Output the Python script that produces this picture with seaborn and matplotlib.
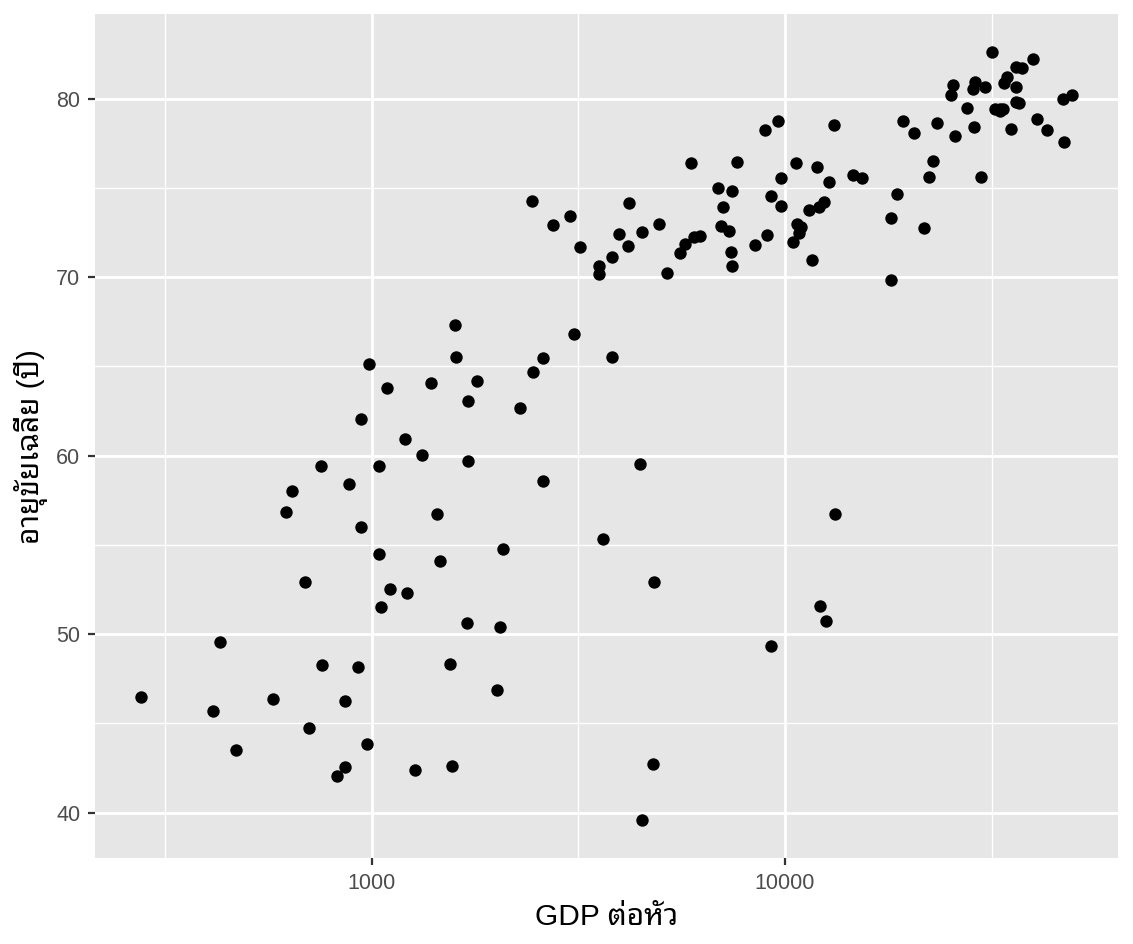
import matplotlib
matplotlib.use("Agg")
import numpy as np
import pandas as pd
import matplotlib.pyplot as plt
import seaborn as sns
from matplotlib import font_manager
from matplotlib.ticker import FixedLocator, NullFormatter

# gapminder 2007: GDP per capita and life expectancy, one entry per country
countries = ["Afghanistan", "Albania", "Algeria", "Angola", "Argentina", "Australia", "Austria", "Bahrain",
             "Bangladesh", "Belgium", "Benin", "Bolivia", "Bosnia and Herzegovina", "Botswana", "Brazil",
             "Bulgaria", "Burkina Faso", "Burundi", "Cambodia", "Cameroon", "Canada", "Central African Republic",
             "Chad", "Chile", "China", "Colombia", "Comoros", "Congo, Dem. Rep.", "Congo, Rep.", "Costa Rica",
             "Cote d'Ivoire", "Croatia", "Cuba", "Czech Republic", "Denmark", "Djibouti", "Dominican Republic",
             "Ecuador", "Egypt", "El Salvador", "Equatorial Guinea", "Eritrea", "Ethiopia", "Finland", "France",
             "Gabon", "Gambia", "Germany", "Ghana", "Greece", "Guatemala", "Guinea", "Guinea-Bissau", "Haiti",
             "Honduras", "Hong Kong", "Hungary", "Iceland", "India", "Indonesia", "Iran", "Iraq", "Ireland",
             "Israel", "Italy", "Jamaica", "Japan", "Jordan", "Kenya", "Korea, Dem. Rep.", "Korea, Rep.",
             "Kuwait", "Lebanon", "Lesotho", "Liberia", "Libya", "Madagascar", "Malawi", "Malaysia", "Mali",
             "Mauritania", "Mauritius", "Mexico", "Mongolia", "Montenegro", "Morocco", "Mozambique", "Myanmar",
             "Namibia", "Nepal", "Netherlands", "New Zealand", "Nicaragua", "Niger", "Nigeria", "Norway", "Oman",
             "Pakistan", "Panama", "Paraguay", "Peru", "Philippines", "Poland", "Portugal", "Puerto Rico",
             "Reunion", "Romania", "Rwanda", "Sao Tome and Principe", "Saudi Arabia", "Senegal", "Serbia",
             "Sierra Leone", "Singapore", "Slovak Republic", "Slovenia", "Somalia", "South Africa", "Spain",
             "Sri Lanka", "Sudan", "Swaziland", "Sweden", "Switzerland", "Syria", "Taiwan", "Tanzania",
             "Thailand", "Togo", "Trinidad and Tobago", "Tunisia", "Turkey", "Uganda", "United Kingdom",
             "United States", "Uruguay", "Venezuela", "Vietnam", "West Bank and Gaza", "Yemen, Rep.", "Zambia",
             "Zimbabwe"]

gdp_per_cap = [974.6, 5937.0, 6223.4, 4797.2, 12779.4, 34435.4, 36126.5, 29796.0,
               1391.3, 33692.6, 1441.3, 3822.1, 7446.3, 12569.9, 9065.8,
               10680.8, 1217.0, 430.1, 1713.8, 2042.1, 36319.2, 706.0,
               1704.1, 13171.6, 4959.1, 7006.6, 986.1, 277.6, 3632.6, 9645.1,
               1544.8, 14619.2, 8948.1, 22833.3, 35278.4, 2082.5, 6025.4,
               6873.3, 5581.2, 5728.4, 12154.1, 641.4, 690.8, 33207.1, 30470.0,
               13206.5, 752.7, 32170.4, 1327.6, 27538.4, 5186.1, 942.7, 579.2, 1201.6,
               3548.3, 39725.0, 18008.9, 36180.8, 2452.2, 3540.7, 11605.7, 4471.1, 40676.0,
               25523.3, 28569.7, 7320.9, 31656.1, 4519.5, 1463.2, 1593.1, 23348.1,
               47307.0, 10461.1, 1569.3, 414.5, 12057.5, 1044.8, 759.3, 12451.7, 1042.6,
               1803.2, 10957.0, 11977.6, 3095.8, 9253.9, 3820.2, 823.7, 944.0,
               4811.1, 1091.4, 36797.9, 25185.0, 2749.3, 619.7, 2014.0, 49357.2, 22316.2,
               2605.9, 9809.2, 4172.8, 7408.9, 3190.5, 15389.9, 20509.6, 19328.7,
               7670.1, 10808.5, 863.1, 1598.4, 21654.8, 1712.5, 9786.5,
               862.5, 47143.2, 18678.3, 25768.3, 926.1, 9269.7, 28821.1,
               3970.1, 2602.4, 4513.5, 33859.7, 37506.4, 4184.5, 28718.3, 1107.5,
               7458.4, 883.0, 18008.5, 7092.9, 8458.3, 1056.4, 33203.3,
               42951.7, 10611.5, 11415.8, 2441.6, 3025.3, 2280.8, 1271.2,
               469.7]

life_exp = [43.83, 76.42, 72.30, 42.73, 75.32, 81.24, 79.83, 75.64,
            64.06, 79.44, 56.73, 65.55, 74.85, 50.73, 72.39,
            73.01, 52.30, 49.58, 59.72, 50.43, 80.65, 44.74,
            50.65, 78.55, 72.96, 72.89, 65.15, 46.46, 55.32, 78.78,
            48.33, 75.75, 78.27, 76.49, 78.33, 54.79, 72.24,
            74.99, 71.34, 71.88, 51.58, 58.04, 52.95, 79.31, 80.66,
            56.74, 59.45, 79.41, 60.02, 79.48, 70.26, 56.01, 46.39, 60.92,
            70.20, 82.21, 73.34, 81.76, 64.70, 70.65, 70.96, 59.55, 78.89,
            80.75, 80.55, 72.57, 82.60, 72.54, 54.11, 67.30, 78.62,
            77.59, 71.99, 42.59, 45.68, 73.95, 59.44, 48.30, 74.24, 54.47,
            64.16, 72.80, 76.20, 66.80, 74.54, 71.16, 42.08, 62.07,
            52.91, 63.79, 79.76, 80.20, 72.90, 56.87, 46.86, 80.20, 75.64,
            65.48, 75.54, 71.75, 71.42, 71.69, 75.56, 78.10, 78.75,
            76.44, 72.48, 46.24, 65.53, 72.78, 63.06, 74.00,
            42.57, 79.97, 74.66, 77.93, 48.16, 49.34, 80.94,
            72.40, 58.56, 39.61, 80.88, 81.70, 74.14, 78.40, 52.52,
            70.62, 58.42, 69.82, 73.92, 71.78, 51.54, 79.43,
            78.24, 76.38, 73.75, 74.25, 73.42, 62.70, 42.38,
            43.49]

df = pd.DataFrame({"country": countries, "gdpPercap": gdp_per_cap, "lifeExp": life_exp})

sns.set_theme(style="darkgrid", rc={
    "axes.facecolor": "#E6E6E6",
    "grid.color": "white",
    "axes.edgecolor": "#E6E6E6",
})

# latin text in an Arial-like face, Thai glyphs from a Thai family
installed = {f.name for f in font_manager.fontManager.ttflist}
thai_pref = ["Noto Sans Thai Looped", "Noto Sans Thai", "Sarabun", "Anuphan", "Athiti"]
thai_font = next((n for n in thai_pref if n in installed), "DejaVu Sans")
plt.rcParams["font.family"] = ["Liberation Sans", thai_font, "DejaVu Sans"]

fig = plt.figure(figsize=(11.33, 9.44), dpi=100)
ax = fig.add_axes([0.0838, 0.0911, 0.9030, 0.8941])

sns.scatterplot(data=df, x="gdpPercap", y="lifeExp", color="black", s=80,
                linewidth=0, ax=ax)
ax.set_xscale("log")
ax.margins(0.05)

ax.xaxis.set_major_locator(FixedLocator([1000, 10000]))
ax.xaxis.set_minor_locator(FixedLocator([10 ** 2.5, 10 ** 3.5, 10 ** 4.5]))
ax.xaxis.set_minor_formatter(NullFormatter())
ax.set_xticklabels(["1000", "10000"])
ax.yaxis.set_major_locator(FixedLocator([40, 50, 60, 70, 80]))
ax.yaxis.set_minor_locator(FixedLocator([45, 55, 65, 75]))

ax.grid(which="major", color="white", linewidth=2.0)
ax.grid(which="minor", color="white", linewidth=1.0)
ax.tick_params(which="major", length=5, width=1.6, color="#333333", pad=5.5,
               labelsize=15.5, labelcolor="#4D4D4D", bottom=True, left=True)
ax.tick_params(which="minor", length=0)
for sp in ax.spines.values():
    sp.set_visible(False)

ax.set_xlabel("GDP ต่อหัว", fontsize=21.5, color="black", labelpad=7)
ax.set_ylabel("อายุขัยเฉลี่ย (ปี)", fontsize=21.5, color="black")
ax.yaxis.set_label_coords(-0.046, 0.487)

fig.savefig("out.png", dpi=100)
